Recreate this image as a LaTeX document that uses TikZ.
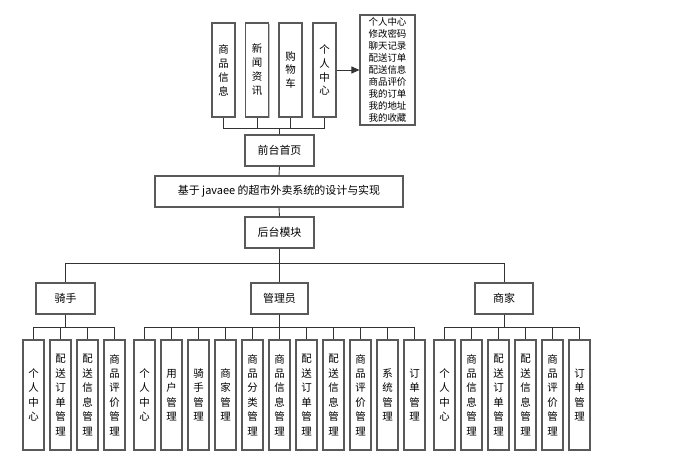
\documentclass[tikz,border=0pt]{standalone}
\usepackage{fontspec}
\setmainfont{Noto Sans CJK SC}
\usetikzlibrary{arrows.meta,shadows}
\tikzset{
  box/.style={draw=black!65, line width=1.1bp, fill=white, inner sep=0pt,
    drop shadow={shadow xshift=1.2bp, shadow yshift=-1.2bp, opacity=0.25, fill=black}},
  hbox/.style={box, minimum height=31bp, font=\fontsize{11}{13}\selectfont},
  leaf/.style={box, minimum width=21bp, minimum height=110bp, align=center,
    font=\fontsize{10.5}{14.5}\selectfont},
  topbox/.style={box, minimum width=23bp, minimum height=94bp, align=center,
    font=\fontsize{10.5}{14}\selectfont},
  conn/.style={draw=black!80, line width=0.9bp},
}
\begin{document}
\begin{tikzpicture}[x=1bp,y=-1bp]
\useasboundingbox (0,0) rectangle (699,462);
% top row
\node[topbox] (t1) at (223.5,70) {商\\品\\信\\息};
\node[topbox] (t2) at (257,70) {新\\闻\\资\\讯};
\node[topbox] (t3) at (290.5,70) {购\\物\\车};
\node[topbox] (t4) at (324.5,70) {个\\人\\中\\心};
\node[box, minimum width=55bp, minimum height=110bp, align=left,
  font=\fontsize{9.5}{12}\selectfont] (info) at (387.5,70)
  {个人中心\\修改密码\\聊天记录\\配送订单\\配送信息\\商品评价\\我的订单\\我的地址\\我的收藏};
% centre column
\node[hbox, minimum width=69bp] (front) at (279.5,150.5) {前台首页};
\node[hbox, minimum width=248bp] (main) at (279,191.5) {基于 javaee 的超市外卖系统的设计与实现};
\node[hbox, minimum width=69bp] (back) at (279.5,232.5) {后台模块};
% roles
\node[hbox, minimum width=59bp] (rider) at (65.5,298.5) {骑手};
\node[hbox, minimum width=57bp] (admin) at (279.5,298.5) {管理员};
\node[hbox, minimum width=58bp] (shop) at (504,298.5) {商家};
% rider leaves
\node[leaf] (r1) at (33.5,395) {个\\人\\中\\心};
\node[leaf] (r2) at (60.5,395) {配\\送\\订\\单\\管\\理};
\node[leaf] (r3) at (87.5,395) {配\\送\\信\\息\\管\\理};
\node[leaf] (r4) at (114.5,395) {商\\品\\评\\价\\管\\理};
% admin leaves
\node[leaf] (a1) at (144.5,395) {个\\人\\中\\心};
\node[leaf] (a2) at (171.5,395) {用\\户\\管\\理};
\node[leaf] (a3) at (198.5,395) {骑\\手\\管\\理};
\node[leaf] (a4) at (225.5,395) {商\\家\\管\\理};
\node[leaf] (a5) at (252.5,395) {商\\品\\分\\类\\管\\理};
\node[leaf] (a6) at (279.5,395) {商\\品\\信\\息\\管\\理};
\node[leaf] (a7) at (306.5,395) {配\\送\\订\\单\\管\\理};
\node[leaf] (a8) at (333.5,395) {配\\送\\信\\息\\管\\理};
\node[leaf] (a9) at (360.5,395) {商\\品\\评\\价\\管\\理};
\node[leaf] (a10) at (387.5,395) {系\\统\\管\\理};
\node[leaf] (a11) at (414.5,395) {订\\单\\管\\理};
% merchant leaves
\node[leaf] (m1) at (444.5,395) {个\\人\\中\\心};
\node[leaf] (m2) at (471.5,395) {商\\品\\信\\息\\管\\理};
\node[leaf] (m3) at (498.5,395) {配\\送\\订\\单\\管\\理};
\node[leaf] (m4) at (525.5,395) {配\\送\\信\\息\\管\\理};
\node[leaf] (m5) at (552.5,395) {商\\品\\评\\价\\管\\理};
\node[leaf] (m6) at (579.5,395) {订\\单\\管\\理};
% connectors
\begin{scope}[on background layer/.try]
\foreach \t in {t1,t2,t3,t4} \draw[conn] (front.north) -- ++(0,-6) -| (\t.south);
\draw[conn] (front.south) -- (main.north);
\draw[conn] (main.south) -- (back.north);
\foreach \r in {rider,admin,shop} \draw[conn] (back.south) -- ++(0,15) -| (\r.north);
\foreach \l in {r1,r2,r3,r4} \draw[conn] (rider.south) -- ++(0,13) -| (\l.north);
\foreach \l in {a1,a2,a3,a4,a5,a6,a7,a8,a9,a10,a11} \draw[conn] (admin.south) -- ++(0,13) -| (\l.north);
\foreach \l in {m1,m2,m3,m4,m5,m6} \draw[conn] (shop.south) -- ++(0,13) -| (\l.north);
\end{scope}
\draw[conn, -{Triangle[length=8bp,width=7bp]}] (t4.east) -- (info.west);
\end{tikzpicture}
\end{document}
